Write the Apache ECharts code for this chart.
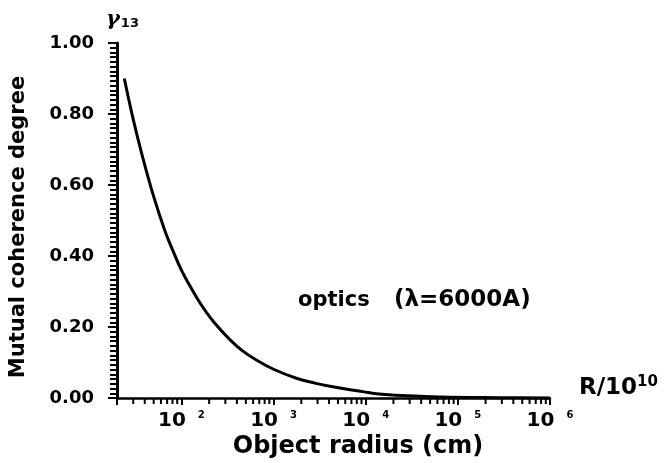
<!DOCTYPE html>
<html>
<head>
<meta charset="utf-8">
<script src="https://cdn.jsdelivr.net/npm/echarts@6/dist/echarts.min.js"></script>
<style>
  html, body { margin: 0; padding: 0; background: #fff; }
  #chart_div { width: 672px; height: 463px; }
</style>
</head>
<body>
<div id="chart_div"></div>
<script>
// 物体半径 R / 10^10 cm
var radius = [24, 30, 38, 49, 66, 80, 100, 125, 160, 220, 340, 450, 650, 1000, 1800, 2800, 4100, 6800, 9300, 13000, 21000, 65000, 290000, 1000000]
// 互相干度 γ13
var coherence = [0.90, 0.785, 0.678, 0.575, 0.472, 0.418, 0.36, 0.314, 0.267, 0.217, 0.163, 0.135, 0.107, 0.081, 0.055, 0.042, 0.033, 0.023, 0.018, 0.012, 0.008, 0.003, 0.001, 0]

// 横轴刻度标签（10 的幂）
var decadeValues = [100, 1000, 10000, 100000, 1000000]
var decadeExps = ['2', '3', '4', '5', '6']
// 对数次刻度
var minorX = [30, 40, 50, 60, 70, 80, 90,
  200, 300, 400, 500, 600, 700, 800, 900,
  2000, 3000, 4000, 5000, 6000, 7000, 8000, 9000,
  20000, 30000, 40000, 50000, 60000, 70000, 80000, 90000,
  200000, 300000, 400000, 500000, 600000, 700000, 800000, 900000]

var FONT = 'DejaVu Sans'

var myChart = echarts.init(document.getElementById('chart_div'))

var lineData = []
for (var i = 0; i < radius.length; i++) {
  lineData.push([radius[i], coherence[i]])
}

var option = {
  backgroundColor: '#fff',
  animation: false,
  grid: { left: 117, right: 122, top: 43, bottom: 65 },
  xAxis: {
    type: 'log',
    logBase: 10,
    min: 20,
    max: 1000000,
    axisLine: { lineStyle: { color: '#000', width: 2.5 } },
    axisTick: { length: 7, lineStyle: { color: '#000', width: 2 } },
    splitLine: { show: false },
    axisLabel: {
      margin: 12,
      formatter: function (v) {
        var e = Math.round(Math.log10(v))
        var k = decadeValues.indexOf(Math.pow(10, e))
        if (k < 0 || Math.abs(Math.log10(v) - e) > 1e-6) return ''
        return '{b|10}{s|' + decadeExps[k] + '}'
      },
      rich: {
        b: { fontFamily: FONT, fontWeight: 'bold', fontSize: 20, color: '#000', lineHeight: 22 },
        s: { fontFamily: FONT, fontWeight: 'bold', fontSize: 10, color: '#000', lineHeight: 22, verticalAlign: 'top', padding: [0, 0, 12, 12] }
      }
    }
  },
  yAxis: {
    type: 'value',
    min: 0,
    max: 1,
    interval: 0.2,
    axisLine: { show: true, lineStyle: { color: '#000', width: 3 } },
    axisTick: { show: true, length: 9, lineStyle: { color: '#000', width: 2 } },
    minorTick: { show: true, splitNumber: 15, length: 7, lineStyle: { color: '#000', width: 2 } },
    splitLine: { show: false },
    axisLabel: {
      margin: 23,
      fontFamily: FONT, fontWeight: 'bold', fontSize: 18, color: '#000',
      formatter: function (v) { return v.toFixed(2) }
    }
  },
  graphic: [
    {
      // 纵轴标题
      type: 'text', x: 19, y: 227, rotation: Math.PI / 2,
      style: {
        text: 'Mutual coherence degree', fontFamily: FONT, fontWeight: 'bold', fontSize: 21, fill: '#000',
        align: 'center', verticalAlign: 'middle'
      }
    },
    {
      // 横轴标题
      type: 'text', x: 358, y: 447,
      style: {
        text: 'Object radius (cm)', fontFamily: FONT, fontWeight: 'bold', fontSize: 24, fill: '#000',
        align: 'center', verticalAlign: 'middle'
      }
    },
    {
      type: 'text', left: 106, top: 9,
      style: {
        text: '{g|γ}{s|13}',
        rich: {
          g: { fontFamily: 'DejaVu Serif', fontStyle: 'italic', fontWeight: 'bold', fontSize: 21, fill: '#000', lineHeight: 22 },
          s: { fontFamily: FONT, fontWeight: 'bold', fontSize: 13, fill: '#000', lineHeight: 22, verticalAlign: 'bottom', padding: [0, 0, 0, 1] }
        }
      }
    },
    {
      type: 'text', left: 579, top: 375,
      style: {
        text: '{b|R/10}{s|10}',
        rich: {
          b: { fontFamily: FONT, fontWeight: 'bold', fontSize: 23, fill: '#000', lineHeight: 26 },
          s: { fontFamily: FONT, fontWeight: 'bold', fontSize: 15, fill: '#000', lineHeight: 26, verticalAlign: 'top' }
        }
      }
    },
    {
      type: 'text', left: 298, top: 290,
      style: { text: 'optics', fontFamily: FONT, fontWeight: 'bold', fontSize: 21, fill: '#000' }
    },
    {
      type: 'text', left: 394, top: 289,
      style: { text: '(λ=6000A)', fontFamily: FONT, fontWeight: 'bold', fontSize: 23, fill: '#000' }
    }
  ],
  series: [
    {
      type: 'line',
      data: lineData,
      smooth: 0.4,
      showSymbol: false,
      lineStyle: { color: '#000', width: 3 },
      z: 5
    },
    {
      // 横轴对数次刻度
      type: 'custom',
      silent: true,
      clip: false,
      data: minorX.map(function (v) { return [v, 0] }),
      renderItem: function (params, api) {
        var p = api.coord([api.value(0), 0])
        return {
          type: 'line',
          shape: { x1: p[0], y1: p[1], x2: p[0], y2: p[1] + 6 },
          style: { stroke: '#000', lineWidth: 2 }
        }
      },
      z: 3
    }
  ]
}

myChart.setOption(option)
</script>
</body>
</html>
